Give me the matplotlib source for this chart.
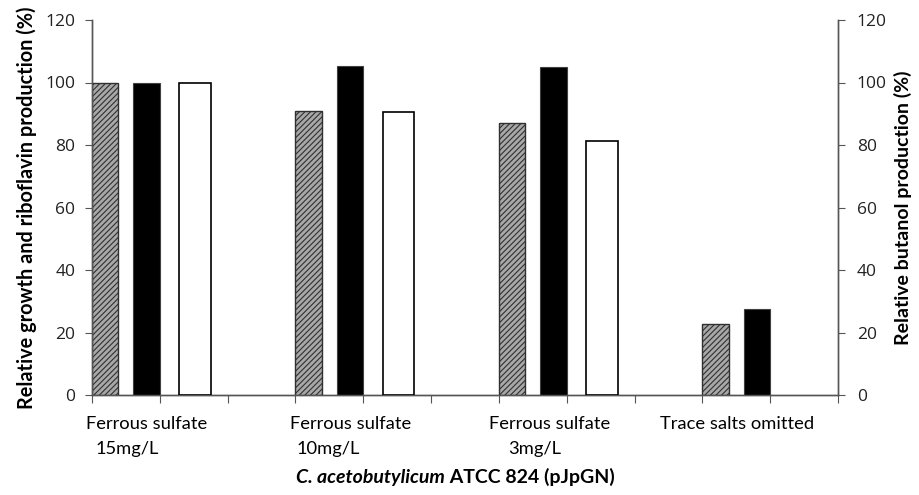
import matplotlib
matplotlib.use("Agg")
import matplotlib.pyplot as plt
from matplotlib.transforms import blended_transform_factory

plt.rcParams['font.family'] = ['Lato', 'DejaVu Sans']
plt.rcParams['hatch.linewidth'] = 0.8

# Data
categories_line1 = ['Ferrous sulfate', 'Ferrous sulfate', 'Ferrous sulfate', 'Trace salts omitted']
categories_line2 = ['15mg/L', '10mg/L', '3mg/L', '']
growth = [100, 91.0, 87.1, 22.8]        # hatched grey
riboflavin = [100, 105.3, 104.9, 27.4]  # black
butanol = [100, 90.7, 81.3, 0]          # white (right axis)
yticks = [0, 20, 40, 60, 80, 100, 120]

fig = plt.figure(figsize=(9.19, 4.95), dpi=100)
ax = fig.add_axes([0.1001, 0.202, 0.8118, 0.7576])
ax2 = ax.twinx()

group_start = [0, 3, 6, 9]
bw = 0.39
ax.bar([g for g in group_start], growth, width=bw, align='edge',
       facecolor='#a8a8a8', edgecolor='#303030', hatch='//////', linewidth=1.0, zorder=3)
ax.bar([g + 1 - bw for g in group_start], riboflavin, width=bw, align='edge',
       facecolor='black', edgecolor='#404040', linewidth=0.8, zorder=3)
wb = [(g + 1.29, v) for g, v in zip(group_start, butanol) if v > 0]
ax2.bar([w[0] for w in wb], [w[1] for w in wb], width=0.46, align='edge',
        facecolor='white', edgecolor='black', linewidth=1.2, zorder=3)

for a in (ax, ax2):
    a.set_xlim(0, 11)
    a.set_ylim(0, 120)
    a.set_yticks(yticks)
    a.set_yticklabels([str(t) for t in yticks], family=['Open Sans', 'DejaVu Sans'],
                      fontsize=12.5, color='#222222')
    a.spines['top'].set_visible(False)
    for s in a.spines.values():
        s.set_color('#555555')
        s.set_linewidth(1.0)
ax.set_xticks(range(12))
ax.set_xticklabels([])
ax.tick_params(axis='x', direction='out', length=6, color='#555555')
ax.tick_params(axis='y', direction='out', length=5, color='#555555', pad=7)
ax2.tick_params(axis='y', direction='out', length=5, color='#555555', pad=8.5)
ax2.spines['right'].set_visible(True)

ax.set_ylabel('Relative growth and riboflavin production (%)', fontsize=14.3,
              fontweight='bold', labelpad=6)
ax2.set_ylabel('Relative butanol production (%)', fontsize=14, fontweight='bold', labelpad=5)

tr = blended_transform_factory(ax.transData, ax.transAxes)
line1_x = [0.81, 3.81, 6.75, 9.51]
line2_x = [0.52, 3.49, 6.53, 9.51]
for x1, x2, t1, t2 in zip(line1_x, line2_x, categories_line1, categories_line2):
    ax.text(x1, -0.076, t1, transform=tr, ha='center', va='center', fontsize=13.2)
    if t2:
        ax.text(x2, -0.144, t2, transform=tr, ha='center', va='center', fontsize=13.2)

# x axis title: italic species name + bold strain
fig.canvas.draw()
r = fig.canvas.get_renderer()
t_it = fig.text(0, 0.036, 'C. acetobutylicum', ha='left', va='center', fontsize=14,
                fontweight='bold', fontstyle='italic')
t_rest = fig.text(0, 0.036, ' ATCC 824 (pJpGN)', ha='left', va='center', fontsize=14,
                  fontweight='bold')
w1 = t_it.get_window_extent(r).width
w2 = t_rest.get_window_extent(r).width
cx = 455.0
x0 = cx - (w1 + w2) / 2
W = fig.bbox.width
t_it.set_x(x0 / W)
t_rest.set_x((x0 + w1) / W)

fig.savefig('out.png', dpi=100)
